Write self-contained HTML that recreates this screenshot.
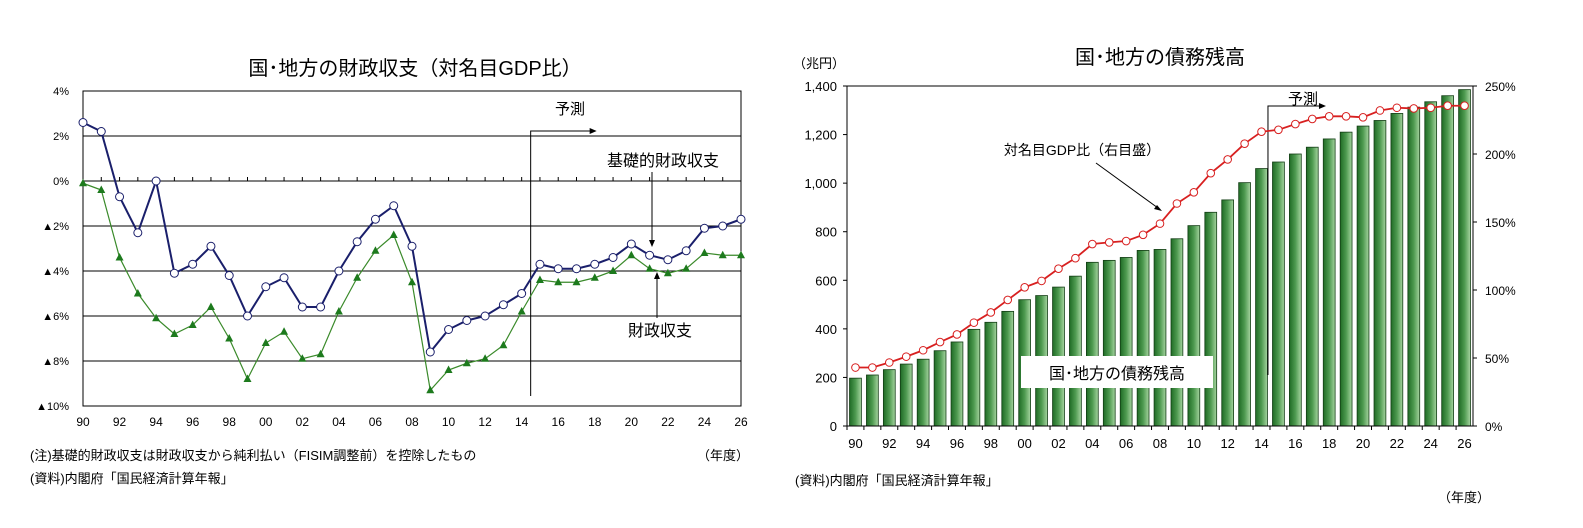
<!DOCTYPE html>
<html><head><meta charset="utf-8">
<style>
body{margin:0;background:#fff;font-family:"Liberation Sans","Noto Sans CJK JP",sans-serif;}
svg text{font-family:"Liberation Sans","Noto Sans CJK JP",sans-serif;}
</style></head>
<body>
<svg id="c" width="1583" height="523" viewBox="0 0 1583 523" xmlns="http://www.w3.org/2000/svg">
<defs>
<linearGradient id="bg" x1="0" x2="1" y1="0" y2="0">
<stop offset="0" stop-color="#1f6b25"/><stop offset="0.5" stop-color="#4e9a50"/><stop offset="1" stop-color="#a6d4a0"/>
</linearGradient>
</defs>
<g id="left"></g>
<g id="right"></g>
</svg>
<script>
const years=['90','91','92','93','94','95','96','97','98','99','00','01','02','03','04','05','06','07','08','09','10','11','12','13','14','15','16','17','18','19','20','21','22','23','24','25','26'];
const primaryBalance=[2.6,2.2,-0.7,-2.3,0,-4.1,-3.7,-2.9,-4.2,-6.0,-4.7,-4.3,-5.6,-5.6,-4.0,-2.7,-1.7,-1.1,-2.9,-7.6,-6.6,-6.2,-6.0,-5.5,-5.0,-3.7,-3.9,-3.9,-3.7,-3.4,-2.8,-3.3,-3.5,-3.1,-2.1,-2.0,-1.7];
const fiscalBalance=[-0.1,-0.4,-3.4,-5.0,-6.1,-6.8,-6.4,-5.6,-7.0,-8.8,-7.2,-6.7,-7.9,-7.7,-5.8,-4.3,-3.1,-2.4,-4.5,-9.3,-8.4,-8.1,-7.9,-7.3,-5.8,-4.4,-4.5,-4.5,-4.3,-4.0,-3.3,-3.9,-4.1,-3.9,-3.2,-3.3,-3.3];
const leftTicks=[4,2,0,-2,-4,-6,-8,-10];
const leftTickLabels=['4%','2%','0%','▲2%','▲4%','▲6%','▲8%','▲10%'];
const debt=[197,210,232,255,275,310,346,398,427,472,520,537,572,617,674,682,694,723,727,771,825,880,931,1002,1060,1087,1120,1148,1182,1210,1235,1258,1287,1313,1335,1360,1385];
const debtRatio=[43,43,46.7,51,55.7,61.7,67.3,76,83.5,92.7,102,106.7,115.7,123.4,133.8,135,136,140.6,148.8,163.6,171.8,185.9,196,207.6,216.4,217.8,222,225.8,227.7,227.7,227,232,234,233.5,234,235.5,235.5];
const rightTicksL=[0,200,400,600,800,1000,1200,1400];
const rightTickLabelsL=['0','200','400','600','800','1,000','1,200','1,400'];
const rightTicksR=[0,50,100,150,200,250];
const rightTickLabelsR=['0%','50%','100%','150%','200%','250%'];

const NS='http://www.w3.org/2000/svg';
function mk(p,t,a,txt){const e=document.createElementNS(NS,t);for(const k in a)e.setAttribute(k,a[k]);if(txt!==undefined)e.textContent=txt;p.appendChild(e);return e;}

// LEFT
const L=document.getElementById('left');
const lx0=83,lx1=741,ly0=91,ly1=406;
const lX=i=>lx0+i*(lx1-lx0)/(years.length-1);
const lY=v=>ly0+(4-v)*(ly1-ly0)/14;
let t=mk(L,'text',{x:415,y:75,'text-anchor':'middle','font-size':20},'国･地方の財政収支（対名目GDP比）');

let r=mk(L,'rect',{x:lx0,y:ly0,width:lx1-lx0,height:ly1-ly0,fill:'none',stroke:'#000','stroke-width':1});

leftTicks.forEach((v,i)=>{
 if(v!==4&&v!==-10){const g=mk(L,'line',{x1:lx0,x2:lx1,y1:lY(v),y2:lY(v),stroke:'#000','stroke-width':1});
 }
 const tl=mk(L,'text',{x:lx0-14,y:lY(v)+4,'text-anchor':'end','font-size':11},leftTickLabels[i]);
 
});
years.forEach((y,i)=>{
 const tk=mk(L,'line',{x1:lX(i),x2:lX(i),y1:lY(0),y2:lY(0)-4,stroke:'#000'});
 
 if(i%2===0){const tl=mk(L,'text',{x:lX(i),y:426,'text-anchor':'middle','font-size':12},y);
 }
});
// forecast marker
const fx=lX(24)+9;
let fl=mk(L,'polyline',{points:`${fx},${ly1-10} ${fx},${ly0+40} ${fx+62},${ly0+40}`,fill:'none',stroke:'#000','stroke-width':1});

let fa=mk(L,'path',{d:`M${fx+66},${ly0+40} l-7,-3 v6z`,fill:'#000'});

t=mk(L,'text',{x:570,y:114,'text-anchor':'middle','font-size':15},'予測');

// lines
let gp=mk(L,'polyline',{points:fiscalBalance.map((v,i)=>lX(i)+','+lY(v)).join(' '),fill:'none',stroke:'#3a8a2a','stroke-width':1.2});

fiscalBalance.forEach((v,i)=>{const x=lX(i),y=lY(v);
 const m=mk(L,'path',{d:`M${x},${y-4.5} L${x+4},${y+3} L${x-4},${y+3}Z`,fill:'#1d7a1d'});
 });
let bp=mk(L,'polyline',{points:primaryBalance.map((v,i)=>lX(i)+','+lY(v)).join(' '),fill:'none',stroke:'#1a1f6b','stroke-width':2});

primaryBalance.forEach((v,i)=>{
 const m=mk(L,'circle',{cx:lX(i),cy:lY(v),r:4,fill:'#fff',stroke:'#1a1f6b','stroke-width':1});
 });
t=mk(L,'rect',{x:588,y:143,width:150,height:30,fill:'#fff'});

t=mk(L,'text',{x:663,y:166,'text-anchor':'middle','font-size':16},'基礎的財政収支');

t=mk(L,'line',{x1:652,y1:172,x2:652,y2:243,stroke:'#000'});
t=mk(L,'path',{d:'M652,247 l-3,-7 h6z',fill:'#000'});
t=mk(L,'text',{x:660,y:336,'text-anchor':'middle','font-size':16},'財政収支');

t=mk(L,'line',{x1:657,y1:318,x2:657,y2:276,stroke:'#000'});
t=mk(L,'path',{d:'M657,272 l-3,7 h6z',fill:'#000'});
t=mk(L,'text',{x:30,y:460,'font-size':13},'(注)基礎的財政収支は財政収支から純利払い（FISIM調整前）を控除したもの');

t=mk(L,'text',{x:697,y:460,'font-size':13},'（年度）');

t=mk(L,'text',{x:30,y:483,'font-size':13},'(資料)内閣府「国民経済計算年報」');


// RIGHT
const R=document.getElementById('right');
const rx0=847,rx1=1473,ry0=86,ry1=426;
const band=(rx1-rx0)/years.length;
const rXc=i=>rx0+band*(i+0.5);
const rYL=v=>ry1-v*(ry1-ry0)/1400;
const rYR=v=>ry1-v*(ry1-ry0)/250;
t=mk(R,'text',{x:1160,y:64,'text-anchor':'middle','font-size':20},'国･地方の債務残高');

t=mk(R,'text',{x:793,y:68,'font-size':13},'（兆円）');

rightTicksL.forEach((v,i)=>{const tl=mk(R,'text',{x:rx0-10,y:rYL(v)+5,'text-anchor':'end','font-size':13},rightTickLabelsL[i]);
 
 const tk=mk(R,'line',{x1:rx0-4,x2:rx0,y1:rYL(v),y2:rYL(v),stroke:'#000'});});
rightTicksR.forEach((v,i)=>{const tl=mk(R,'text',{x:rx1+12,y:rYR(v)+5,'font-size':12},rightTickLabelsR[i]);
 
 const tk=mk(R,'line',{x1:rx1,x2:rx1+4,y1:rYR(v),y2:rYR(v),stroke:'#000'});});
debt.forEach((v,i)=>{const w=band*0.7;
 const b=mk(R,'rect',{x:rXc(i)-w/2,y:rYL(v),width:w,height:ry1-rYL(v),fill:'url(#bg)',stroke:'#123d14','stroke-width':0.8});
 });
years.forEach((y,i)=>{
 const tk=mk(R,'line',{x1:rx0+band*i,x2:rx0+band*i,y1:ry1,y2:ry1+4,stroke:'#000'});
 if(i%2===0){const tl=mk(R,'text',{x:rXc(i),y:448,'text-anchor':'middle','font-size':13},y);
 }});
r=mk(R,'rect',{x:rx0,y:ry0,width:rx1-rx0,height:ry1-ry0,fill:'none',stroke:'#000','stroke-width':1});

const rfx=rx0+band*25-2;
t=mk(R,'polyline',{points:`${rfx},375 ${rfx},106 ${rfx+52},106`,fill:'none',stroke:'#000'});
t=mk(R,'path',{d:`M${rfx+58},106 l-7,-3 v6z`,fill:'#000'});
t=mk(R,'text',{x:1303,y:104,'text-anchor':'middle','font-size':15},'予測');
let rl=mk(R,'polyline',{points:debtRatio.map((v,i)=>rXc(i)+','+rYR(v)).join(' '),fill:'none',stroke:'#d82020','stroke-width':1.8});

debtRatio.forEach((v,i)=>{const m=mk(R,'circle',{cx:rXc(i),cy:rYR(v),r:3.8,fill:'#fff',stroke:'#d82020','stroke-width':1});
 });
t=mk(R,'text',{x:1082,y:155,'text-anchor':'middle','font-size':14},'対名目GDP比（右目盛）');
t=mk(R,'line',{x1:1096,y1:163,x2:1158,y2:208,stroke:'#000'});
t=mk(R,'path',{d:'M1162,211 l-8,-2 l3,-4z',fill:'#000'});
t=mk(R,'rect',{x:1021,y:356,width:192,height:32,fill:'#fff'});
t=mk(R,'text',{x:1117,y:379,'text-anchor':'middle','font-size':16},'国･地方の債務残高');
t=mk(R,'text',{x:1438,y:502,'font-size':13},'（年度）');
t=mk(R,'text',{x:795,y:485,'font-size':13},'(資料)内閣府「国民経済計算年報」');
</script>
</body></html>
